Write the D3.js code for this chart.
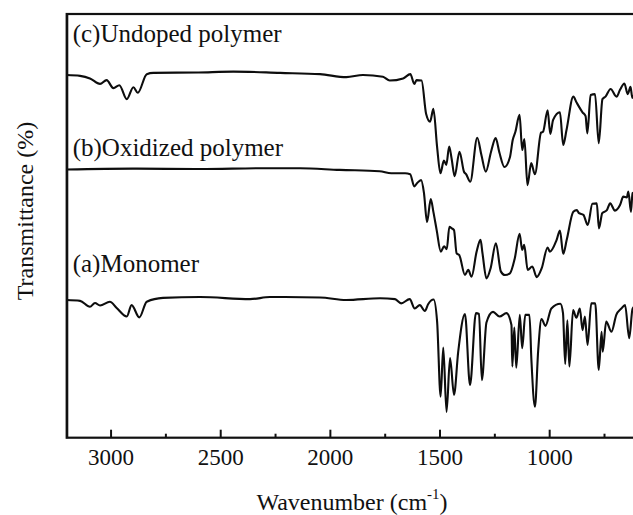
<!DOCTYPE html>
<html>
<head>
<meta charset="utf-8">
<script src="https://cdn.jsdelivr.net/npm/d3@7"></script>
<style>
  html, body { margin: 0; padding: 0; background: #fff; }
  svg { display: block; }
  text { font-family: "Liberation Serif", "Times New Roman", serif; fill: #111; }
</style>
</head>
<body>
<svg id="chart" width="633" height="515"></svg>
<script>
// FTIR spectra: [wavenumber (cm^-1), transmittance (%)], traces offset vertically
const monomer = [
  [3200,32.5],[3139,32.3],[3094,30.9],[3071,31.8],[3048,31.2],[3003,32.1],[2972,30.6],[2926,28.6],
  [2904,31.3],[2869,28.4],[2835,32.1],[2761,33.0],[2592,33.2],[2364,32.7],[2273,33.2],[2045,33.1],
  [1926,32.5],[1771,32.9],[1703,32.7],[1675,31.7],[1636,32.7],[1613,30.5],[1590,31.3],[1567,29.9],
  [1552,31.5],[1527,32.6],[1511,27.4],[1495,9.7],[1483,21.3],[1468,6.1],[1452,18.8],[1434,10.1],
  [1415,20.2],[1384,29.2],[1361,12.4],[1334,29.4],[1320,29.2],[1307,13.6],[1286,27.2],[1256,29.7],
  [1226,28.6],[1195,29.4],[1172,26.6],[1168,16.8],[1159,26.0],[1150,16.5],[1134,29.0],[1123,21.1],
  [1109,29.0],[1090,29.0],[1081,18.3],[1065,7.3],[1050,20.7],[1035,28.0],[1017,26.4],[990,30.5],
  [949,31.6],[937,29.4],[927,17.4],[917,27.7],[908,16.8],[891,30.1],[876,28.3],[860,30.5],
  [848,25.4],[837,28.6],[825,21.9],[808,31.7],[790,31.7],[774,16.0],[761,25.0],[756,20.3],
  [740,27.4],[716,25.0],[694,29.0],[671,30.5],[654,31.3],[635,23.5],[620,30.4],[604,31.3]
];

const oxidized = [
  [3200,63.3],[2900,63.5],[2592,63.4],[2300,63.6],[2136,63.6],[1955,63.2],[1773,62.9],[1720,62.4],
  [1657,62.4],[1634,62.2],[1615,59.3],[1602,60.1],[1584,60.8],[1571,57.8],[1557,50.9],[1540,56.3],
  [1528,53.3],[1513,49.0],[1494,43.9],[1479,45.2],[1467,44.5],[1455,49.8],[1444,49.4],[1434,49.0],
  [1422,43.5],[1410,43.1],[1384,38.4],[1369,39.6],[1354,38.0],[1331,43.9],[1313,46.7],[1304,43.5],
  [1286,37.6],[1267,40.0],[1243,45.9],[1220,39.2],[1202,38.4],[1179,38.8],[1157,42.3],[1135,48.1],
  [1123,44.3],[1114,45.5],[1098,39.6],[1077,40.4],[1057,37.9],[1034,40.0],[1007,44.9],[997,43.9],
  [966,46.7],[951,48.9],[936,43.4],[920,46.7],[890,53.3],[874,53.7],[864,53.0],[844,52.6],
  [824,50.2],[803,55.2],[783,55.3],[773,49.4],[758,53.0],[737,53.7],[722,55.3],[700,53.6],
  [677,54.9],[662,56.9],[646,56.7],[639,58.1],[627,53.3],[620,57.7],[604,58.0]
];

const undoped = [
  [3200,85.6],[3139,85.4],[3094,84.8],[3048,83.5],[3018,84.4],[2987,82.5],[2960,83.2],[2926,79.9],
  [2896,82.7],[2876,81.4],[2835,85.8],[2805,86.1],[2600,86.2],[2440,86.4],[2227,86.1],[2045,85.8],
  [1925,85.1],[1849,85.6],[1758,85.2],[1727,84.3],[1666,84.8],[1633,85.8],[1615,83.5],[1605,84.4],
  [1582,84.3],[1561,76.4],[1543,74.6],[1528,77.6],[1511,68.6],[1496,62.4],[1480,65.4],[1469,64.4],
  [1456,68.7],[1445,65.9],[1431,61.7],[1409,67.5],[1388,62.7],[1379,62.2],[1360,60.4],[1328,70.8],
  [1309,66.7],[1289,62.8],[1265,67.5],[1244,70.7],[1227,67.3],[1204,63.9],[1179,66.2],[1166,70.3],
  [1154,72.2],[1135,76.2],[1123,67.9],[1113,70.5],[1099,59.6],[1082,64.8],[1065,62.2],[1037,72.0],
  [1028,72.2],[1007,77.3],[995,71.7],[982,75.0],[951,76.8],[936,69.1],[921,72.6],[890,80.5],
  [875,79.1],[848,76.8],[834,75.9],[826,71.8],[811,80.9],[791,81.1],[774,69.5],[757,79.9],
  [743,80.5],[720,82.3],[693,80.5],[677,82.1],[657,83.6],[642,81.1],[629,82.8],[621,80.2],[604,83.2]
];

const seriesLabels = ["(c)Undoped polymer", "(b)Oxidized polymer", "(a)Monomer"];
const labelLevels = [93.3, 66.4, 39.0];   // transmittance level of each label baseline
const majorTicks = [3000, 2500, 2000, 1500, 1000];
const minorTicks = [2750, 2250, 1750, 1250, 750];

const svg = d3.select("#chart");
const plot = { left: 66.7, top: 14, right: 636.9, bottom: 437.7 };

const x = d3.scaleLinear().domain([3200, 600]).range([plot.left, plot.right]);
const y = d3.scaleLinear().domain([0, 100]).range([plot.bottom, plot.top]);

// clip traces to the plotting frame
svg.append("clipPath").attr("id", "clip")
  .append("rect")
  .attr("x", plot.left).attr("y", plot.top)
  .attr("width", plot.right - plot.left).attr("height", plot.bottom - plot.top);

const line = d3.line()
  .x(d => x(d[0]))
  .y(d => y(d[1]))
  .curve(d3.curveMonotoneX);

svg.append("g").attr("clip-path", "url(#clip)")
  .selectAll("path")
  .data([monomer, oxidized, undoped])
  .join("path")
  .attr("d", line)
  .attr("fill", "none")
  .attr("stroke", "#0d0d0d")
  .attr("stroke-width", 2.1)
  .attr("stroke-linejoin", "round");

// frame
svg.append("rect")
  .attr("x", plot.left).attr("y", plot.top)
  .attr("width", plot.right - plot.left).attr("height", plot.bottom - plot.top)
  .attr("fill", "none").attr("stroke", "#111").attr("stroke-width", 2.2);

// bottom axis, ticks pointing inward
const xAxis = svg.append("g")
  .attr("transform", `translate(0,${plot.bottom})`)
  .call(d3.axisBottom(x).tickValues(majorTicks).tickSize(-8).tickSizeOuter(0)
    .tickPadding(11).tickFormat(d3.format("d")));
xAxis.select(".domain").remove();
xAxis.selectAll(".tick line").attr("stroke", "#111").attr("stroke-width", 2);
xAxis.selectAll(".tick text")
  .style("font-family", '"Liberation Serif", "Times New Roman", serif')
  .style("font-size", "23px").attr("fill", "#111");

const xMinor = svg.append("g")
  .attr("transform", `translate(0,${plot.bottom})`)
  .call(d3.axisBottom(x).tickValues(minorTicks).tickSize(-4).tickSizeOuter(0).tickFormat(""));
xMinor.select(".domain").remove();
xMinor.selectAll(".tick line").attr("stroke", "#111").attr("stroke-width", 2);

// left axis: plain line, no ticks
const yAxis = svg.append("g")
  .attr("transform", `translate(${plot.left},0)`)
  .call(d3.axisLeft(y).tickValues([]).tickSizeOuter(0));
yAxis.select(".domain").attr("stroke", "#111").attr("stroke-width", 2.2);

// series labels
svg.append("g").selectAll("text")
  .data(seriesLabels)
  .join("text")
  .attr("x", plot.left + 6)
  .attr("y", (d, i) => y(labelLevels[i]))
  .style("font-size", "25px")
  .text(d => d);

// axis titles
const xTitle = svg.append("text")
  .attr("x", 352).attr("y", 510)
  .attr("text-anchor", "middle")
  .style("font-size", "24px");
xTitle.append("tspan").text("Wavenumber (cm");
xTitle.append("tspan").attr("dy", -11).style("font-size", "15px").text("-1");
xTitle.append("tspan").attr("dy", 11).text(")");

svg.append("text")
  .attr("transform", "translate(33,211) rotate(-90)")
  .attr("text-anchor", "middle")
  .style("font-size", "24px")
  .text("Transmittance (%)");
</script>
</body>
</html>
